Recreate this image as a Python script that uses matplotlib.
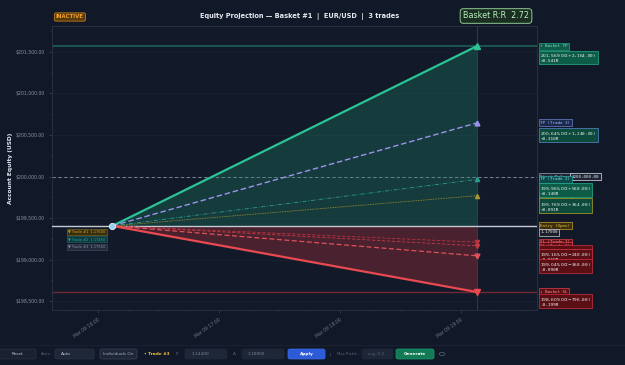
import matplotlib
matplotlib.use("Agg")
import matplotlib.pyplot as plt
import matplotlib.dates as mdates
import matplotlib.transforms as mtransforms
from matplotlib.patches import FancyBboxPatch, Circle
from datetime import datetime

# ---------------- data ----------------
t_start = datetime(2025, 3, 9, 16, 7)
t_end = datetime(2025, 3, 9, 19, 8)
x_range = [datetime(2025, 3, 9, 15, 37), datetime(2025, 3, 9, 19, 38)]

entry_equity = 199405.0
start_balance = 200000.0

level_names = ["Basket TP", "TP (Trade 3)", "TP (Trade 2)", "TP (Trade 1)",
               "SL (Trade 1)", "SL (Trade 2)", "SL (Trade 3)", "Basket SL"]
level_values = [201569.0, 200645.0, 199965.0, 199769.0,
                199209.0, 199165.0, 199045.0, 198609.0]
level_pnl = [2164.0, 1240.0, 560.0, 364.0, -196.0, -240.0, -360.0, -796.0]
level_r = [0.541, 0.310, 0.140, 0.091, -0.049, -0.060, -0.090, -0.199]

trade_legend = ["▼ Trade #1  1.17600", "▼ Trade #2  1.17450", "▼ Trade #3  1.17550"]
entry_price_label = "1.17500"
y_ticks = [198500, 199000, 199500, 200000, 200500, 201000, 201500]
y_range = [198392, 201813]
basket_rr = 2.72

# ---------------- style ----------------
BG = "#111827"
AX_BG = "#121a29"
TXT = "#8a94a6"

fig = plt.figure(figsize=(6.25, 3.65), dpi=100, facecolor=BG)
ax = fig.add_axes([52/625, 1-310/365, (537-52)/625, (310-26)/365])
ax.set_facecolor(AX_BG)
for s in ax.spines.values():
    s.set_color("#2a3445")
    s.set_linewidth(0.6)

ax.set_xlim(x_range)
ax.set_ylim(y_range)
ax.set_yticks(y_ticks)
ax.set_yticklabels([f"${v:,.2f}" for v in y_ticks])
ax.grid(True, axis="y", color="#1b2434", lw=0.4)
ax.tick_params(axis="both", colors="#3a4456", labelcolor=TXT, labelsize=3.3, length=2, width=0.5)
ax.tick_params(axis="both", which="minor", colors="#2e3848", length=1.5, width=0.4)
ax.yaxis.set_minor_locator(plt.MultipleLocator(250))
ax.xaxis.set_major_locator(mdates.HourLocator())
ax.xaxis.set_minor_locator(mdates.MinuteLocator(byminute=[0, 15, 30, 45]))
ax.xaxis.set_major_formatter(mdates.DateFormatter("%b %d %H:%M"))
for lab in ax.get_xticklabels():
    lab.set_rotation(35)
    lab.set_ha("right")
    lab.set_rotation_mode("anchor")
    lab.set_color("#6f788a")
ax.set_ylabel("Account Equity (USD)", color="#e6e9ef", fontsize=4.2, fontweight="bold")
ax.yaxis.set_label_coords(-0.08, 0.5)

# horizontal reference lines
ax.axhline(level_values[0], color="#1f7a66", lw=1.1, alpha=0.8, zorder=2)
ax.axhline(level_values[-1], color="#7a2a33", lw=1.0, alpha=0.9, zorder=2)
ax.axhline(start_balance, color="#8d95a5", lw=0.6, ls=(0, (4, 3)), zorder=2)
ax.axhline(entry_equity, color="#c4c9d2", lw=1.0, zorder=3)
ax.axvline(t_end, color="#2e3849", lw=0.8, zorder=1)

xs = [t_start, t_end]
# fills
ax.fill_between(xs, [entry_equity, entry_equity], [entry_equity, level_values[0]],
                color="#1d8a6c", alpha=0.30, lw=0, zorder=2)
ax.fill_between(xs, [entry_equity, entry_equity], [entry_equity, level_values[-1]],
                color="#b5303a", alpha=0.35, lw=0, zorder=2)

styles = [
    dict(color="#2cc397", lw=1.6, ls="-", marker="^", ms=4),
    dict(color="#9a93f0", lw=1.0, ls=(0, (4, 2)), marker="^", ms=3.5),
    dict(color="#2a9d8f", lw=0.6, ls=(0, (5, 2, 1, 2)), marker="^", ms=3),
    dict(color="#a8952a", lw=0.6, ls=(0, (1, 1)), marker="^", ms=3),
    dict(color="#b8343f", lw=0.6, ls=(0, (4, 2)), marker="v", ms=3),
    dict(color="#c23a45", lw=0.6, ls=(0, (4, 2)), marker="v", ms=3),
    dict(color="#e0505a", lw=0.9, ls=(0, (4, 2)), marker="v", ms=3.5),
    dict(color="#e84a50", lw=1.6, ls="-", marker="v", ms=4),
]
for val, st in zip(level_values, styles):
    ax.plot(xs, [entry_equity, val], color=st["color"], lw=st["lw"], ls=st["ls"], zorder=4)
    ax.plot([t_end], [val], marker=st["marker"], color=st["color"], ms=st["ms"], ls="none", zorder=5)

ax.plot([t_start], [entry_equity], marker="o", ms=4.5, color="#8fd3f0",
        mec="#e8f4ff", mew=0.6, zorder=6)

# small trade legend boxes
leg_cols = [("#3a2e10", "#8a7020", "#c9a227"), ("#0f3a3d", "#1f6f70", "#2aa0a0"), ("#222a3c", "#4a5266", "#8a90a8")]
for i, (txt, (bg, ec, tc)) in enumerate(zip(trade_legend, leg_cols)):
    ax.text(0.034, 0.275 - i*0.026, txt, transform=ax.transAxes, fontsize=2.6, color=tc,
            va="center", ha="left", zorder=7,
            bbox=dict(boxstyle="square,pad=0.3", fc=bg, ec=ec, lw=0.4))

# right annotations
trans = mtransforms.blended_transform_factory(ax.transAxes, ax.transData)

def tag(y, text, fc, ec, tc, dy=0, fs=3.1, dx=2.5, pad=0.35):
    ax.annotate(text, xy=(1.0, y), xycoords=trans, xytext=(dx, dy), textcoords="offset points",
                fontsize=fs, color=tc, va="center", ha="left", family="DejaVu Sans Mono",
                annotation_clip=False, zorder=8, linespacing=1.0,
                bbox=dict(boxstyle=f"square,pad={pad}", fc=fc, ec=ec, lw=0.5))

tag_styles = [
    ("↑ Basket TP", "#0f5a48", "#1fa37f", "#7fe0c0"),
    ("TP (Trade 3)", "#1a2a4a", "#6f7fd0", "#a8b4ff"),
    ("TP (Trade 2)", "#0e4a4a", "#2aa0a0", "#7fe0e0"),
    ("TP (Trade 1)", "#3a3510", "#a8952a", "#e0d070"),
    ("SL (Trade 1)", "#5a1015", "#e04050", "#ff9090"),
    ("SL (Trade 2)", "#5a1015", "#e04050", "#ff9090"),
    ("SL (Trade 3)", "#5a1015", "#e04050", "#ff9090"),
    ("↓ Basket SL", "#5a1015", "#e04050", "#ff9090"),
]
val_styles = [
    ("#0d5c46", "#25b08a"), ("#0d4a3c", "#5a8ad0"), ("#0d5c46", "#25b08a"), ("#0d4a3a", "#b5a22c"),
    ("#5a0f14", "#d03040"), ("#5a0f14", "#d03040"), ("#5a0f14", "#d03040"), ("#5a0f14", "#d03040"),
]

def vtext(i):
    sign = "+" if level_pnl[i] >= 0 else "-"
    rs = "+" if level_r[i] >= 0 else ""
    return f"${level_values[i]:,.2f}  ({sign}${abs(level_pnl[i]):,.2f})\n{rs}{level_r[i]:.3f}R"

VFS = 3.2
VP = 0.25
tag(level_values[0], *tag_styles[0])
tag(level_values[0], vtext(0), *val_styles[0], "#f0f4f8", dy=-8.5, fs=VFS, pad=VP)
tag(level_values[1], *tag_styles[1])
tag(level_values[1], vtext(1), *val_styles[1], "#f0f4f8", dy=-9, fs=VFS, pad=VP)
tag(level_values[3], *tag_styles[3])
tag(start_balance, "Start Balance", "#1e2533", "#9aa3b5", "#d0d5de")
tag(start_balance, f"${start_balance:,.2f}", "#1e2533", "#e0e4ea", "#e8ecf2", dx=25)
tag(level_values[2], *tag_styles[2])
tag(level_values[2], vtext(2), *val_styles[2], "#f0f4f8", dy=-8, fs=VFS, pad=VP)
tag(level_values[3], vtext(3), *val_styles[3], "#f0f4f8", dy=-7.5, fs=VFS, pad=VP)
tag(entry_equity, "Entry (Open)", "#3a2e10", "#c9a227", "#f0c040")
tag(entry_equity, entry_price_label, "#1a1f2a", "#d0d0d0", "#f0f0f0", dy=-4.5)
for i in [4, 5, 6]:
    tag(level_values[i], *tag_styles[i])
for i in [4, 5, 6]:
    tag(level_values[i], vtext(i), *val_styles[i], "#f0f4f8", dy=-7.5, fs=VFS, pad=VP)
tag(level_values[7], *tag_styles[7])
tag(level_values[7], vtext(7), *val_styles[7], "#f0f4f8", dy=-7, fs=VFS, pad=VP)

# header
fig.text(0.48, 1-17/365, "Equity Projection — Basket #1  |  EUR/USD  |  3 trades",
         color="#e6e9ef", fontsize=4.8, fontweight="bold", ha="center", va="center")
fig.text(56/625, 1-17/365, "INACTIVE", color="#f0a030", fontsize=3.9, fontweight="bold",
         ha="left", va="center",
         bbox=dict(boxstyle="round,pad=0.3,rounding_size=0.3", fc="#5a3a0a", ec="#c07a20", lw=0.6))
fig.text(463/625, 1-16/365, f"Basket R:R  {basket_rr:.2f}", color="#b8f0c0", fontsize=5.8,
         ha="left", va="center",
         bbox=dict(boxstyle="round,pad=0.35,rounding_size=0.4", fc="#1a2e22", ec="#8fc890", lw=0.7))

# toolbar
fig.add_artist(plt.Line2D([0, 1], [1-345/365, 1-345/365], color="#1c2434", lw=0.6))
yc = 1 - 354/365

def fbox(x0, x1, fc, ec, text="", tc="#c0c8d8", bold=False, ha="center"):
    h = 10/365
    fig.add_artist(FancyBboxPatch((x0/625, yc - h/2), (x1-x0)/625, h,
                                  boxstyle="round,pad=0,rounding_size=0.004",
                                  transform=fig.transFigure, fc=fc, ec=ec, lw=0.5))
    if text:
        xt = (x0+x1)/2/625 if ha == "center" else (x0+6)/625
        fig.text(xt, yc, text, color=tc, fontsize=3.1, ha=ha, va="center",
                 fontweight="bold" if bold else "normal")

fbox(-2, 36, "#1a2232", "#2a3446", "Reset")
fig.text(41/625, yc, "Axes:", color="#5a6478", fontsize=2.9, va="center")
fbox(55, 94, "#1e2738", "#2a3446", "Auto", ha="left")
fbox(100, 137, "#1e2738", "#3a4458", "Individuals On", tc="#a0a8b8")
fig.text(144/625, yc, "• Trade #3", color="#f0c040", fontsize=3.1, fontweight="bold", va="center")
fig.text(176/625, yc, "P:", color="#5a6478", fontsize=2.9, va="center")
fbox(185, 227, "#1e2738", "#1e2738", "1.14400", tc="#7a8498", ha="left")
fig.text(233/625, yc, "A:", color="#5a6478", fontsize=2.9, va="center")
fbox(242, 284, "#1e2738", "#1e2738", "1.18900", tc="#7a8498", ha="left")
fbox(288, 325, "#2d5bd8", "#3a6ae8", "Apply", tc="#ffffff", bold=True)
fig.text(330/625, yc, "|", color="#5a6478", fontsize=3, va="center")
fig.text(337/625, yc, "Max Risk/t...", color="#5a6478", fontsize=2.7, va="center")
fbox(362, 393, "#1e2738", "#1e2738", "e.g. 0.2", tc="#5a6478", ha="left")
fbox(396, 434, "#127a55", "#1a9a6a", "Generate", tc="#ffffff", bold=True)
fig.add_artist(Circle((442/625, yc), 0.0045, transform=fig.transFigure, fc="none", ec="#5a6478", lw=0.5))

fig.savefig("out.png", dpi=100, facecolor=BG)
